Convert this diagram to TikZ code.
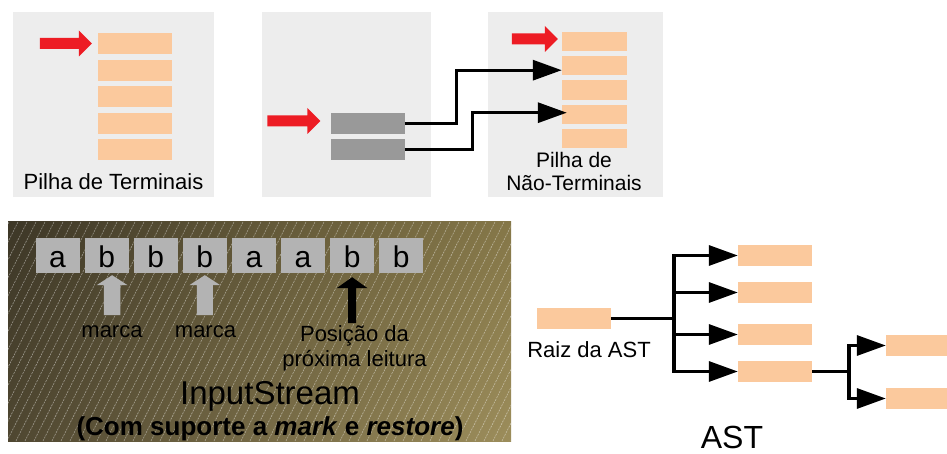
\documentclass[tikz,border=0pt]{standalone}
\usepackage{fontspec}
\setmainfont{Liberation Sans}
\usetikzlibrary{arrows.meta,shadings}
\definecolor{panelgray}{HTML}{EDEDED}
\definecolor{cellorange}{HTML}{FBC99D}
\definecolor{cellgray}{HTML}{999999}
\definecolor{chargray}{HTML}{B3B3B3}
\definecolor{pushred}{HTML}{ED1C24}
\definecolor{streamdark}{HTML}{3D3727}
\definecolor{streamlow}{HTML}{4F4731}
\definecolor{streamhigh}{HTML}{857748}
\definecolor{streamlight}{HTML}{9C8D5B}
% Block arrow pointing right; #1 tip, #2 shaft length.
\newcommand{\PushArrow}[2]{%
  \fill[pushred] (#1)--++(-13,13)--++(0,-7.5)--++(-#2,0)
    --++(0,-11)--++(#2,0)--++(0,-7.5)--cycle;
}
% Block arrow pointing up; #1 colour, #2 tip, #3 head length,
% #4 half shaft width, #5 total length.
\newcommand{\MarkArrow}[5]{%
  \fill[#1] (#2)--++(15.5,#3)--++({#4-15.5},0)--++(0,{#5-#3})
    --++({-2*#4},0)--++(0,{#3-#5})--++({#4-15.5},0)--cycle;
}

\begin{document}
\begin{tikzpicture}[x=1pt,y=-1pt,
 font=\fontsize{22pt}{24pt}\selectfont,
 cell/.style={fill=cellorange,inner sep=0pt,minimum width=74pt,minimum height=21pt},
 smallcell/.style={cell,minimum width=65pt,minimum height=19.5pt},
 regcell/.style={cell,fill=cellgray},
 charbox/.style={fill=chargray,inner sep=0pt,minimum width=44pt,minimum height=35pt,
   text height=23pt,text depth=0pt,font=\fontsize{30pt}{30pt}\selectfont},
 link/.style={line width=3.2pt},
 pointer/.style={-{Triangle[length=29pt,width=20pt]}},
 hatch/.style={white,opacity=0.45,line width=0.6pt,dash pattern=on 2pt off 1pt}]

\useasboundingbox (0,0) rectangle (947,454);

% terminal stack
\fill[panelgray] (13,12) rectangle (214,197);
\foreach \y [count=\i] in {43.5,70.5,96.5,123.5,149.5}
  \node[cell] (t\i) at (135,\y) {};
\PushArrow{[xshift=-6pt]t1.west}{39}
\node[anchor=base] (tlabel) at (113.5,190) {Pilha de Terminais};

% registers
\fill[panelgray] (262,12) rectangle (431,197);
\node[regcell] (r1) at (367.5,123.5) {};
\node[regcell] (r2) at (367.5,149.5) {};
\PushArrow{[shift={(-10,-2.5)}]r1.west}{40}

% non-terminal stack
\fill[panelgray] (488,12) rectangle (663,197);
\foreach \y [count=\i] in {41.5,65.7,90,114.3,138.5}
  \node[smallcell] (n\i) at (594.5,\y) {};
\PushArrow{[shift={(-4,-2.5)}]n1.west}{33}
\node[align=center,anchor=base,font=\fontsize{21pt}{23pt}\selectfont] (nlabel)
  at (574,191) {Pilha de\\Não-Terminais};
\draw[link,pointer] (r1.east) -- ++(52,0) |- ([shift={(0,4.5)}]n2.west);
\draw[link,pointer] (r2.east) -- ++(68,0) |- ([shift={(5,-1.6)}]n4.west);

% input stream
\shade[upper left=streamdark,lower left=streamlow,upper right=streamhigh,
  lower right=streamlight] (8,222) rectangle (511,441);
\begin{scope}
  \clip (8,222) rectangle (511,441);
  \foreach \x in {-110,-101,...,511}
    \draw[hatch] (\x,441) -- ++(110,-219);
\end{scope}
\foreach \ch [count=\i] in {a,b,b,b,a,a,b,b}
  \node[charbox] (c\i) at ({57.5+49.1*(\i-1)},255.5) {\ch};
\MarkArrow{chargray}{[shift={(5.5,2)}]c2.south}{10}{8.3}{40}
\MarkArrow{chargray}{[shift={(0,2)}]c4.south}{10}{8}{40}
\MarkArrow{black}{[shift={(0,4)}]c7.south}{11}{3.9}{46}
\node[anchor=base] (mark1) at (112,337) {marca};
\node[anchor=base] (mark2) at (205.5,337) {marca};
\node[align=center,anchor=base,font=\fontsize{22pt}{25pt}\selectfont] (nextread)
  at (354.5,366) {Posição da\\próxima leitura};
\node[anchor=base,font=\fontsize{33pt}{33pt}\selectfont] (streamtitle) at (270,404) {InputStream};
\node[anchor=base,font=\bfseries\fontsize{26pt}{26pt}\selectfont] (streamnote) at (270,435)
  {(Com suporte a \textit{mark} e \textit{restore})};

% tree
\node[cell] (root) at (574,318.5) {};
\node[anchor=base] (rootlabel) at (589,357) {Raiz da AST};
\coordinate (fork) at (674,318.5);
\draw[link] (root.east) -- (fork);
\foreach \y [count=\i] in {255.5,292.5,334.5,371.5}{
  \node[cell] (k\i) at (775,\y) {};
  \draw[link,pointer] (fork) |- (k\i.west);
}
\node[cell] (g1) at (923,345.5) {};
\node[cell] (g2) at (923,398.5) {};
\coordinate (fork2) at (849,371.5);
\draw[link] (k4.east) -- (fork2);
\draw[link,pointer] (fork2) |- (g1.west);
\draw[link,pointer] (fork2) |- (g2.west);
\node[anchor=base,inner sep=1pt,font=\fontsize{32pt}{32pt}\selectfont] (asttitle)
  at (732,448) {AST};
\end{tikzpicture}
\end{document}
